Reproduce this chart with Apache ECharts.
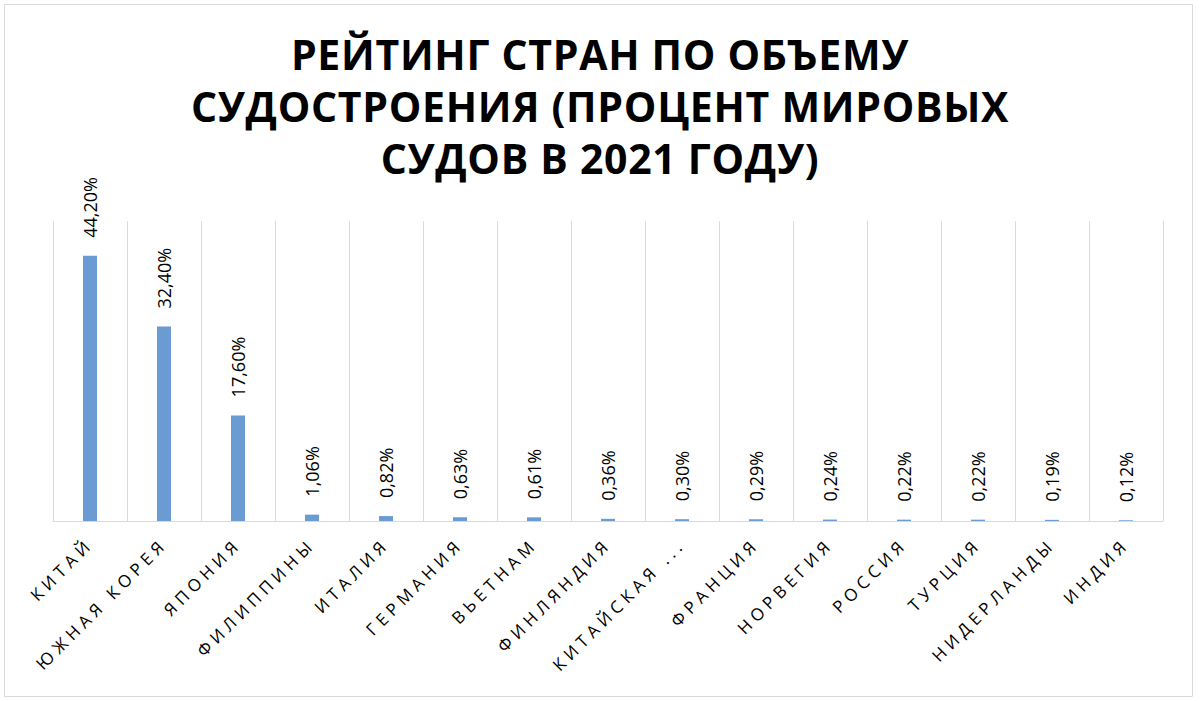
<!DOCTYPE html>
<html>
<head>
<meta charset="utf-8">
<script src="https://cdn.jsdelivr.net/npm/echarts@6/dist/echarts.min.js"></script>
<style>
  html, body { margin: 0; padding: 0; background: #fff; }
  #chart1 { width: 1200px; height: 701px; }
</style>
</head>
<body>
<div id="chart1"></div>
<script>
var countries = ['КИТАЙ', 'ЮЖНАЯ КОРЕЯ', 'ЯПОНИЯ', 'ФИЛИППИНЫ', 'ИТАЛИЯ', 'ГЕРМАНИЯ', 'ВЬЕТНАМ',
  'ФИНЛЯНДИЯ', 'КИТАЙСКАЯ ...', 'ФРАНЦИЯ', 'НОРВЕГИЯ', 'РОССИЯ', 'ТУРЦИЯ', 'НИДЕРЛАНДЫ', 'ИНДИЯ'];
var shares = [44.2, 32.4, 17.6, 1.06, 0.82, 0.63, 0.61, 0.36, 0.30, 0.29, 0.24, 0.22, 0.22, 0.19, 0.12];
var titleLines = ['РЕЙТИНГ СТРАН ПО ОБЪЕМУ', 'СУДОСТРОЕНИЯ (ПРОЦЕНТ МИРОВЫХ', 'СУДОВ В 2021 ГОДУ)'];

function shipChart(){
  var chartDom = document.getElementById('chart1');
  // svg renderer so the spaced-out axis labels can get css letter-spacing
  var myChart = echarts.init(chartDom, null, { renderer: 'svg' });
  var option;

  option = {
    animation: false,
    backgroundColor: '#fff',
    textStyle: { fontFamily: 'Open Sans' },
    title: {
      text: titleLines.join('\n'),
      left: 'center',
      top: 23,
      textStyle: {
        fontFamily: 'Open Sans',
        fontWeight: 'bold',
        fontSize: 41,
        lineHeight: 52,
        color: '#000'
      }
    },
    graphic: [
      {
        type: 'rect',
        shape: { x: 4.5, y: 4.5, width: 1188, height: 692 },
        style: { fill: 'none', stroke: '#d9d9d9', lineWidth: 1 },
        silent: true
      }
    ],
    grid: { left: 53, right: 37, top: 221, bottom: 180 },
    xAxis: {
      type: 'category',
      data: countries,
      axisLine: { lineStyle: { color: '#d9d9d9', width: 1 } },
      axisTick: { show: false },
      splitLine: { show: true, lineStyle: { color: '#d9d9d9', width: 1 } },
      axisLabel: {
        interval: 0,
        rotate: 45,
        margin: 20,
        fontSize: 17,
        color: '#000',
        fontFamily: 'Open Sans'
      }
    },
    yAxis: {
      type: 'value',
      min: 0,
      max: 50,
      show: false,
      splitLine: { show: false }
    },
    series: [
      {
        type: 'bar',
        data: shares,
        barWidth: 14,
        itemStyle: { color: '#6a9bd3' },
        label: {
          show: true,
          position: 'top',
          rotate: 90,
          align: 'left',
          verticalAlign: 'middle',
          distance: 18,
          fontSize: 18,
          color: '#000',
          fontFamily: 'Open Sans',
          formatter: function (p) {
            return p.value.toFixed(2).replace('.', ',') + '%';
          }
        }
      }
    ]
  };

  option && myChart.setOption(option);

  var texts = chartDom.querySelectorAll('text');
  for (var i = 0; i < texts.length; i++) {
    var t = texts[i];
    if (countries.indexOf(t.textContent) >= 0) {
      t.style.letterSpacing = '4.8px';
    } else if (titleLines.indexOf(t.textContent) >= 0) {
      t.style.letterSpacing = '0.7px';
    }
  }
}

shipChart();
</script>
</body>
</html>
